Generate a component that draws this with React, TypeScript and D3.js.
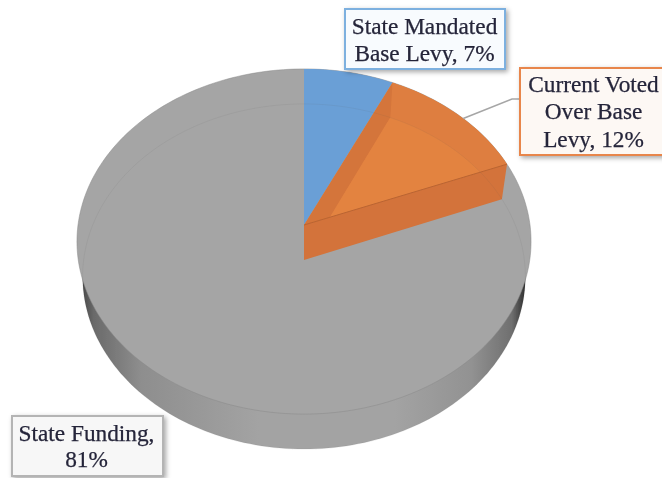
import React from 'react'
import * as d3 from 'd3'

const categories = ['State Mandated Base Levy', 'Current Voted Over Base Levy', 'State Funding']
const shares = [7, 12, 81]
const labelLines = [
  ['State Mandated', 'Base Levy, 7%'],
  ['Current Voted', 'Over Base', 'Levy, 12%'],
  ['State Funding,', '81%']
]
const faceColors = ['#6a9fd6', '#e08041', '#a5a5a5']
const boxFills = ['#f8fbfe', '#fdf8f4', '#f7f7f7']
const boxBorders = ['#7db0df', '#e8864c', '#b4b4b4']

const width = 662
const height = 478

// tilted disc: the far side is foreshortened, so the centre sits above the middle of the ellipse
const cx = 304
const topY = 225
const depth = 35
const radiusX = 226
const radiusY = 171
const perspective = 0.0957

type Pt = [number, number]

function project(angle: number, r: number, lower: boolean): Pt {
  const X = r * Math.sin(angle)
  const Y = r * Math.cos(angle)
  const w = 1 + perspective * Y
  const rx = lower ? radiusX * 0.975 : radiusX
  return [cx + (rx * X) / w, (lower ? topY + depth : topY) - (radiusY * Y) / w]
}

function rim(a0: number, a1: number, lower: boolean): Pt[] {
  const n = Math.max(2, Math.ceil(Math.abs(a1 - a0) * 40))
  return d3.range(n + 1).map(i => project(a0 + ((a1 - a0) * i) / n, 1, lower))
}

const line = d3.line<Pt>()
const closed = (pts: Pt[]) => line(pts) + 'Z'

const arcs = d3.pie<number>().sort(null)(shares)
const [blue, orange] = arcs

const apexTop: Pt = project(0, 0, false)
const apexLow: Pt = project(0, 0, true)

const boxes = [
  { x: 345, y: 9, w: 160, h: 60, baselines: [34, 61], tx: 424.5 },
  { x: 520, y: 68, w: 150, h: 87, baselines: [92, 119, 147], tx: 593.5 },
  { x: 12, y: 416, w: 151, h: 60, baselines: [441, 467], tx: 86.5 }
]

export default function App() {
  const fullTop = closed(rim(0, Math.PI * 2, false))
  const fullLow = closed(rim(0, Math.PI * 2, true))
  const topSector = closed([apexTop, ...rim(orange.startAngle, orange.endAngle, false)])
  const lowSector = closed([apexLow, ...rim(orange.startAngle, orange.endAngle, true)])
  const outerBand = closed(
    rim(orange.startAngle, orange.endAngle, true).concat(rim(orange.endAngle, orange.startAngle, false))
  )
  const sideWall = closed([
    apexTop,
    project(orange.startAngle, 1, false),
    project(orange.startAngle, 1, true),
    apexLow
  ])
  const frontWall = closed([
    apexTop,
    project(orange.endAngle, 1, false),
    project(orange.endAngle, 1, true),
    apexLow
  ])
  const leader = line([
    project(orange.startAngle + 0.407, 1, false),
    [512, 99],
    [520, 99]
  ])

  return (
    <svg width={width} height={height} style={{ position: 'absolute', left: 0, top: 0, background: '#fff' }}>
      <defs>
        <linearGradient id="wall" gradientUnits="userSpaceOnUse" x1={78} x2={530} y1={0} y2={0}>
          <stop offset="0" stopColor="#3c3c3c" />
          <stop offset="0.035" stopColor="#6a6a6a" />
          <stop offset="0.14" stopColor="#8e8e8e" />
          <stop offset="0.4" stopColor="#a3a3a3" />
          <stop offset="0.7" stopColor="#a3a3a3" />
          <stop offset="0.87" stopColor="#929292" />
          <stop offset="0.96" stopColor="#6f6f6f" />
          <stop offset="0.99" stopColor="#2e2e2e" />
        </linearGradient>
        <clipPath id="orangeTop">
          <path d={topSector} />
        </clipPath>
        <filter id="soft" x="-5%" y="-5%" width="110%" height="110%">
          <feGaussianBlur stdDeviation="0.6" />
        </filter>
        <filter id="shadow" x="-15%" y="-15%" width="130%" height="130%">
          <feDropShadow dx="2" dy="2" stdDeviation="2.5" floodOpacity="0.35" />
        </filter>
      </defs>

      <g filter="url(#soft)">
        {/* outer wall and top of the disc */}
        <path d={fullLow} fill="url(#wall)" />
        <path d={fullTop} fill={faceColors[2]} stroke="#8a8a8a" strokeOpacity={0.5} />

        {/* the two small slices */}
        <path d={closed([apexTop, ...rim(blue.startAngle, blue.endAngle, false)])} fill={faceColors[0]} />
        <path d={topSector} fill={faceColors[1]} />
        <g clipPath="url(#orangeTop)">
          <path d={outerBand} fill="#de7e40" />
          <path d={sideWall} fill="#d4753a" />
          <path d={lowSector} fill="#e38341" />
        </g>
        <path d={frontWall} fill="#d3733a" />
        <path d={line([apexTop, project(orange.endAngle, 1, false)]) as string} stroke="#bb6430" fill="none" />

        {/* lower rim showing faintly through the top */}
        <path d={fullLow} fill="none" stroke="#555" strokeOpacity={0.09} />

        <path d={leader as string} fill="none" stroke="#a6a6a6" strokeWidth={1.5} />

        {boxes.map((b, i) => (
          <g key={categories[i]}>
            <rect
              x={b.x}
              y={b.y}
              width={b.w}
              height={b.h}
              fill={boxFills[i]}
              stroke={boxBorders[i]}
              strokeWidth={2}
              filter="url(#shadow)"
            />
            {labelLines[i].map((t, j) => (
              <text
                key={t}
                x={b.tx}
                y={b.baselines[j]}
                textAnchor="middle"
                fontFamily="'Liberation Serif', serif"
                fontSize={23.3}
                fill="#25253a"
                stroke="#25253a"
                strokeWidth={0.25}
              >
                {t}
              </text>
            ))}
          </g>
        ))}
      </g>
    </svg>
  )
}
